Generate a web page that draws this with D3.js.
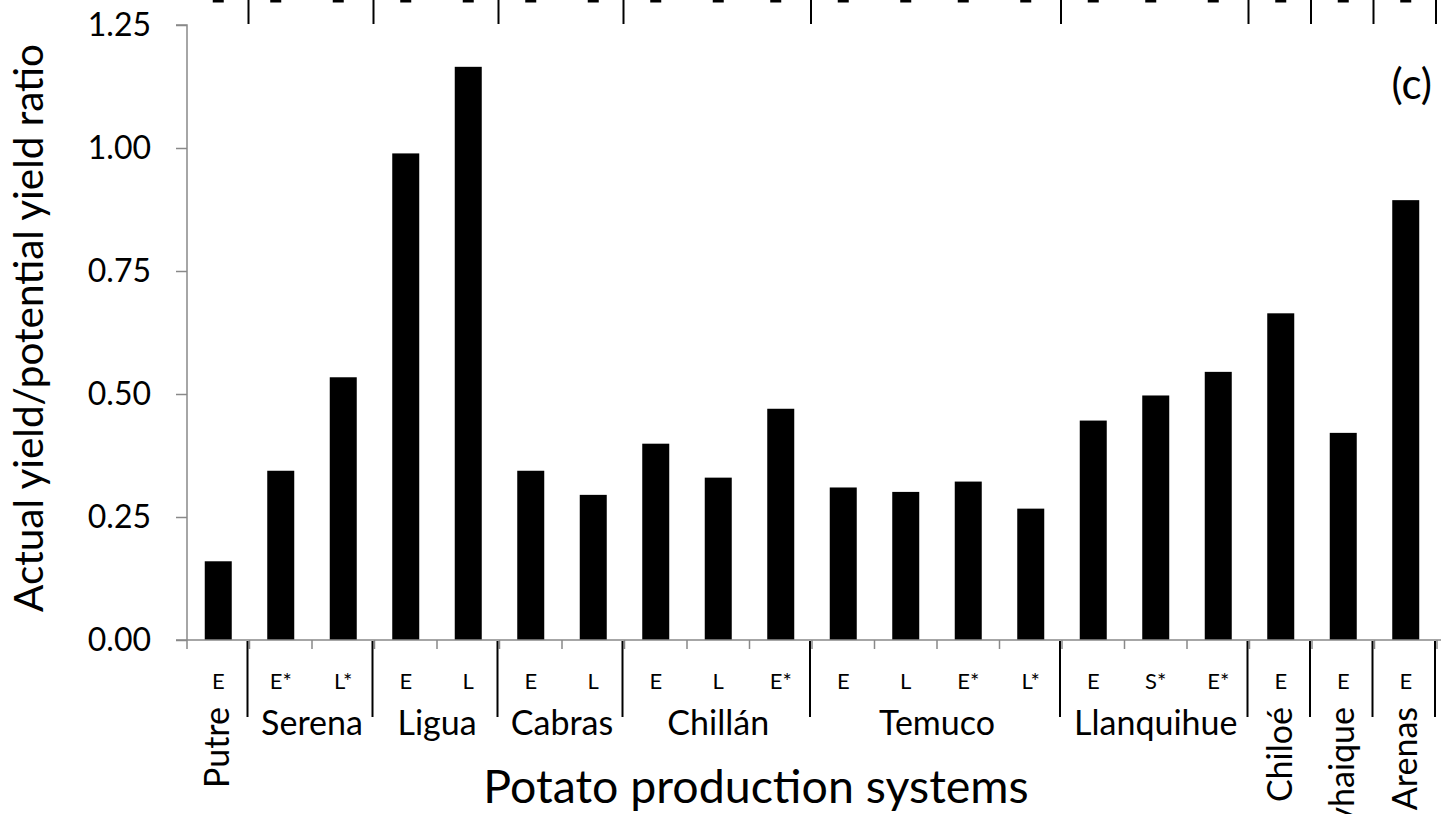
<!DOCTYPE html>
<html>
<head>
<meta charset="utf-8">
<script src="https://cdn.jsdelivr.net/npm/d3@7/dist/d3.min.js"></script>
<style>
  html, body { margin: 0; padding: 0; background: #fff; overflow: hidden; }
  svg { display: block; }
  text { font-family: Lato, "Open Sans", sans-serif; fill: #000; }
</style>
</head>
<body>
<svg id="chart" width="1441" height="814"></svg>
<script>
// ---- data ----
const groups = ["Putre", "Serena", "Ligua", "Cabras", "Chillán", "Temuco", "Llanquihue", "Chiloé", "Coyhaique", "Punta Arenas"];
const groupSizes = [1, 2, 2, 2, 3, 4, 3, 1, 1, 1];
const systems = ["E", "E*", "L*", "E", "L", "E", "L", "E", "L", "E*", "E", "L", "E*", "L*", "E", "S*", "E*", "E", "E", "E"];
const ratios = [0.160, 0.344, 0.534, 0.989, 1.165, 0.344, 0.295, 0.399, 0.330, 0.470, 0.310, 0.301, 0.322, 0.267, 0.446, 0.497, 0.545, 0.664, 0.421, 0.894];
const yTicks = [0, 0.25, 0.5, 0.75, 1.0, 1.25];
const panelLabel = "(c)";
const xTitle = "Potato production systems";
const yTitle = "Actual yield/potential yield ratio";

(function () {
// ---- layout ----
const svg = d3.select("#chart");
const pLeft = 187, pRight = 1437, pTop = 25, pBottom = 640;
const ids = d3.range(systems.length);
const x = d3.scaleBand().domain(ids).range([pLeft, pRight]).paddingInner(0.568).paddingOuter(0.284);
const step = x.step();
const y = d3.scaleLinear().domain([0, 1.25]).range([pBottom, pTop]);
const cx = i => x(i) + x.bandwidth() / 2;
const axisGray = "#898989";

// group boundaries (band index where each group starts)
const starts = [];
let acc = 0;
groupSizes.forEach(s => { starts.push(acc); acc += s; });
const bx = k => pLeft + k * step; // boundary k

// ---- remnant of the panel above (bottom of its labels and separators) ----
const seps = starts.slice(1).concat([systems.length]);
svg.append("g").selectAll("line").data(seps).join("line")
  .attr("x1", k => bx(k) - 1).attr("x2", k => bx(k) - 1)
  .attr("y1", 0).attr("y2", 24)
  .attr("stroke", "#000").attr("stroke-width", 2);
svg.append("g").selectAll("rect").data(ids).join("rect")
  .attr("x", i => cx(i) - 5.5 - (systems[i].length > 1 ? 5 : 0))
  .attr("y", 0).attr("width", 11).attr("height", 2.5)
  .attr("fill", "#000");

// ---- bars ----
svg.append("g").selectAll("rect").data(ids).join("rect")
  .attr("x", i => x(i))
  .attr("y", i => y(ratios[i]))
  .attr("width", x.bandwidth())
  .attr("height", i => y(0) - y(ratios[i]))
  .attr("fill", "#000");

// ---- y axis ----
const yAxis = d3.axisLeft(y).tickValues(yTicks).tickFormat(d3.format(".2f")).tickSize(11).tickPadding(25);
const gy = svg.append("g").attr("transform", `translate(${pLeft},0)`).call(yAxis);
gy.select(".domain").attr("stroke", axisGray).attr("stroke-width", 1.5).attr("d", `M-11,${pTop}H0V${pBottom}`);
gy.selectAll(".tick line").attr("stroke", axisGray).attr("stroke-width", 1.5);
gy.selectAll(".tick text").style("font-family", "Lato, sans-serif").attr("font-size", 32).attr("fill", "#000");

// ---- x axis line and minor ticks ----
svg.append("line").attr("x1", pLeft - 11).attr("x2", 1441).attr("y1", pBottom).attr("y2", pBottom)
  .attr("stroke", axisGray).attr("stroke-width", 1.5);
svg.append("g").selectAll("line").data(d3.range(systems.length + 1)).join("line")
  .attr("x1", k => bx(k)).attr("x2", k => bx(k))
  .attr("y1", pBottom).attr("y2", pBottom + 9)
  .attr("stroke", axisGray).attr("stroke-width", 1.5);

// group separators
svg.append("g").selectAll("line").data(seps).join("line")
  .attr("x1", k => bx(k) - 2).attr("x2", k => bx(k) - 2)
  .attr("y1", pBottom + 1).attr("y2", 717)
  .attr("stroke", "#000").attr("stroke-width", 2);

// system labels
svg.append("g").selectAll("text").data(ids).join("text")
  .attr("x", i => cx(i)).attr("y", 689)
  .attr("text-anchor", "middle").attr("font-size", 22)
  .text(i => systems[i]);

// group labels
const gl = svg.append("g");
groups.forEach((g, j) => {
  const s = starts[j], n = groupSizes[j];
  const center = d3.mean(d3.range(s, s + n), cx);
  if (n === 1) {
    gl.append("text")
      .attr("transform", `translate(${center + 11},707) rotate(-90)`)
      .attr("text-anchor", "end").attr("font-size", 34)
      .text(g);
  } else {
    gl.append("text")
      .attr("x", center).attr("y", 735)
      .attr("text-anchor", "middle").attr("font-size", 34)
      .text(g);
  }
});

// titles
svg.append("text").attr("x", 756).attr("y", 803).attr("text-anchor", "middle")
  .attr("font-size", 46.5).text(xTitle);
svg.append("text").attr("transform", "translate(43,328) rotate(-90)")
  .attr("text-anchor", "middle").attr("font-size", 40.5).text(yTitle);
svg.append("text").attr("x", 1432).attr("y", 99).attr("text-anchor", "end")
  .attr("font-size", 42).text(panelLabel);
})();
</script>
</body>
</html>
